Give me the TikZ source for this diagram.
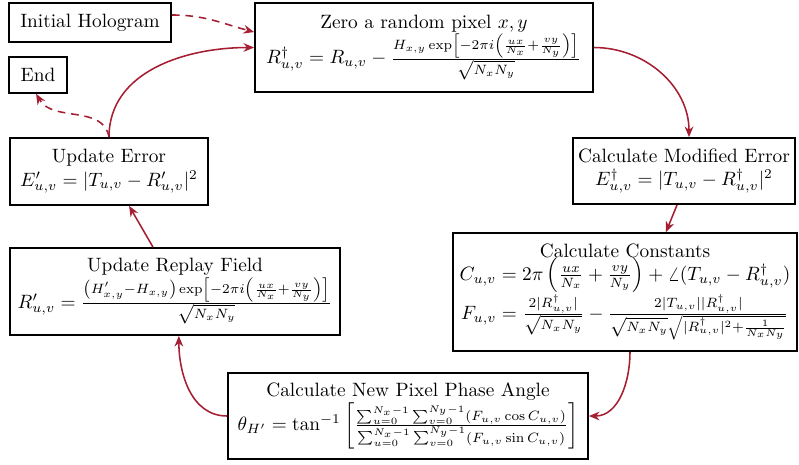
\documentclass[tikz,border=0pt]{standalone}
\usepackage{amsmath}
\usetikzlibrary{arrows.meta}
\definecolor{rosso}{RGB}{165,30,50}
\begin{document}
\begin{tikzpicture}[x=0.518pt,y=-0.518pt,
    blocco/.style={draw,line width=0.9pt,align=center,inner sep=0pt},
    freccia/.style={-{Stealth[length=5.5pt,width=4.5pt]},line width=0.8pt,draw=rosso},
    tratteggio/.style={dash pattern=on 4pt off 3pt}]
        \useasboundingbox (0,0) rectangle (799,464);
        %inizio e fine
        \node[blocco,minimum width=83.9pt,minimum height=20.2pt] (init) at (90,22.5) {Initial Hologram};
        \node[blocco,minimum width=30pt,minimum height=18.6pt] (end) at (38,75) {End};
        %azzeramento pixel
        \node[blocco,minimum width=175.1pt,minimum height=46.1pt] (zero) at (424,47.5)
            {Zero a random pixel $x,y$\\
             $R^{\dagger}_{u,v}=R_{u,v}-\frac{H_{x,y}\exp\left[-2\pi i\left(\frac{ux}{N_x}+\frac{vy}{N_y}\right)\right]}{\sqrt{N_xN_y}}$};
        %errore modificato
        \node[blocco,minimum width=115pt,minimum height=34.2pt] (moderr) at (684,171)
            {Calculate Modified Error\\ $E^{\dagger}_{u,v}=|T_{u,v}-R^{\dagger}_{u,v}|^2$};
        %costanti
        \node[blocco,minimum width=178.2pt,minimum height=61.1pt] (const) at (625,292)
            {Calculate Constants\\
             $C_{u,v}=2\pi\left(\frac{ux}{N_x}+\frac{vy}{N_y}\right)+\angle(T_{u,v}-R^{\dagger}_{u,v})$\\
             $F_{u,v}=\frac{2|R^{\dagger}_{u,v}|}{\sqrt{N_xN_y}}-\frac{2|T_{u,v}||R^{\dagger}_{u,v}|}{\sqrt{N_xN_y}\sqrt{|R^{\dagger}_{u,v}|^2+\frac{1}{N_xN_y}}}$};
        %nuova fase
        \node[blocco,minimum width=186.5pt,minimum height=44.5pt] (phase) at (408,416)
            {Calculate New Pixel Phase Angle\\
             $\theta_{H'}=\tan^{-1}\left[\frac{\sum_{u=0}^{N_x-1}\sum_{v=0}^{N_y-1}\left(F_{u,v}\cos C_{u,v}\right)}{\sum_{u=0}^{N_x-1}\sum_{v=0}^{N_y-1}\left(F_{u,v}\sin C_{u,v}\right)}\right]$};
        %campo ricostruito
        \node[blocco,minimum width=170.9pt,minimum height=45.1pt] (replay) at (175,291.5)
            {Update Replay Field\\
             $R'_{u,v}=\frac{\left(H'_{x,y}-H_{x,y}\right)\exp\left[-2\pi i\left(\frac{ux}{N_x}+\frac{vy}{N_y}\right)\right]}{\sqrt{N_xN_y}}$};
        %errore aggiornato
        \node[blocco,minimum width=102.6pt,minimum height=34.7pt] (upderr) at (109,171.5)
            {Update Error\\ $E'_{u,v}=|T_{u,v}-R'_{u,v}|^2$};

        %frecce del ciclo
        \draw[freccia,tratteggio] ([yshift=3.9pt]init.east) to[out=0,in=165] ([yshift=8pt]zero.west);
        \draw[freccia] (upderr.north) to[out=90,in=180] (zero.west);
        \draw[freccia,tratteggio] (upderr.north) to[out=100,in=-60] ([xshift=-1pt]end.south);
        \draw[freccia] (zero.east) to[out=0,in=90] ([xshift=2.6pt]moderr.north);
        \draw[freccia] ([xshift=-3.6pt]moderr.south) -- ([xshift=21.2pt]const.north);
        \draw[freccia] ([xshift=2.6pt]const.south) to[out=-90,in=0] (phase.east);
        \draw[freccia] (phase.west) to[out=180,in=-90] ([xshift=2pt]replay.south);
        \draw[freccia] ([xshift=-11.4pt]replay.north) -- ([xshift=10.4pt]upderr.south);
    \end{tikzpicture}
\end{document}
